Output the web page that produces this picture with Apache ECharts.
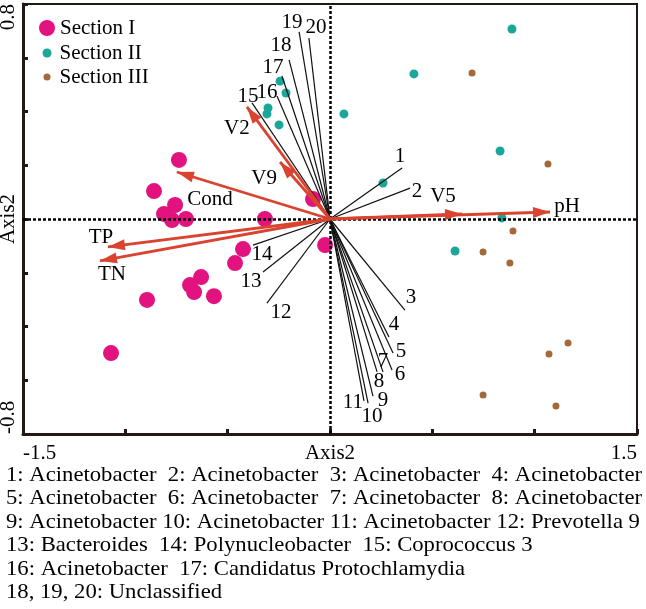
<!DOCTYPE html>
<html><head><meta charset="utf-8">
<script src="https://cdn.jsdelivr.net/npm/echarts@6/dist/echarts.min.js"></script>
<style>html,body{margin:0;padding:0;background:#fff}#c{width:646px;height:609px}</style>
</head><body><div id="c"></div>
<script>
// ---------- data ----------
const sectionI = [[-0.738,0.220],[-0.860,0.104],[-0.757,0.052],[-0.811,0.019],[-0.772,-0.004],[-0.704,0.000],
  [-0.318,0.000],[-0.083,0.074],[-0.024,-0.097],[-0.425,-0.112],[-0.464,-0.164],[-0.630,-0.216],
  [-0.684,-0.246],[-0.664,-0.272],[-0.567,-0.287],[-0.894,-0.301],[-1.070,-0.499]];
const sectionII = [[-0.244,0.513],[-0.215,0.469],[-0.303,0.413],[-0.308,0.391],[-0.249,0.350],[0.889,0.707],
  [0.410,0.540],[0.068,0.391],[0.831,0.253],[0.259,0.134],[0.840,0.004],[0.611,-0.119]];
const sectionIII = [[0.694,0.543],[1.065,0.205],[0.894,-0.045],[0.748,-0.123],[0.879,-0.164],[1.163,-0.461],
  [1.070,-0.502],[0.748,-0.655],[1.104,-0.696]];
const envNames = ['pH','V5','Cond','V2','V9','TP','TN'];
const envScores = [[1.075,0.026],[0.645,0.019],[-0.748,0.175],[-0.406,0.417],[-0.244,0.212],[-1.085,-0.104],[-1.124,-0.156]];
const speciesNames = ['1','2','3','4','5','6','7','8','9','10','11','12','13','14','15','16','17','18','19','20'];
const speciesScores = [[0.352,0.190],[0.391,0.115],[0.366,-0.339],[0.288,-0.439],[0.308,-0.499],[0.303,-0.562],
  [0.259,-0.569],[0.230,-0.569],[0.210,-0.659],[0.186,-0.685],[0.166,-0.677],[-0.308,-0.313],[-0.327,-0.197],
  [-0.376,-0.097],[-0.381,0.432],[-0.259,0.458],[-0.235,0.532],[-0.200,0.592],[-0.151,0.696],[-0.103,0.673]];
const xTickLabels = [-1.5, 1.5];
const yTickLabels = [-0.8, 0.8];
const axisNames = ['Axis2', 'Axis2'];
const captionRows = [
  '1: Acinetobacter  2: Acinetobacter  3: Acinetobacter  4: Acinetobacter',
  '5: Acinetobacter  6: Acinetobacter  7: Acinetobacter  8: Acinetobacter',
  '9: Acinetobacter 10: Acinetobacter 11: Acinetobacter 12: Prevotella 9',
  '13: Bacteroides  14: Polynucleobacter  15: Coprococcus 3',
  '16: Acinetobacter  17: Candidatus Protochlamydia',
  '18, 19, 20: Unclassified'
];

// ---------- styles ----------
const FONT = 'Liberation Serif';
const FS = 21;
const RED = '#D9432F';
const INK = '#231815';
const envLabelOffsets = [[17,-6],[-19,-17],[33,28],[-10,22],[-16,16],[-7,-9],[12,14]];
const speciesLabelOffsets = [[-2,-11],[7,3],[6,-13],[5,-12],[8,-2],[8,4],[0,-10],[2,10],[10,4],[4,13],[-11,2],
  [14,9],[-12,10],[9,9],[-4,-6],[-10,-3],[-9,-9],[-8,-14],[-7,-9],[7,-11]];

const near = (v, arr) => arr.some(a => Math.abs(a - v) < 1e-6);
const textStyle = {fontFamily: FONT, fontSize: FS, color: '#000'};
const plotLabel = Object.assign({show: true, position: 'inside', formatter: '{b}', textBorderWidth: 0,
  textBorderColor: 'transparent', opacity: 1}, textStyle);

const chart = echarts.init(document.getElementById('c'), null, {renderer: 'canvas'});
const option = {
  animation: false,
  textStyle: {fontFamily: FONT},
  grid: {left: 23, right: 9, top: 4, bottom: 175, show: true, borderColor: INK, borderWidth: 2,
         backgroundColor: 'transparent', containLabel: false, outerBoundsMode: 'none'},
  legend: [
    {data: ['Section I'], left: 39, top: 17.5, padding: 0, itemWidth: 16, itemHeight: 16, icon: 'circle',
     selectedMode: false, textStyle: Object.assign({}, textStyle)},
    {data: ['Section II'], left: 42.5, top: 42.5, padding: 0, itemWidth: 9, itemHeight: 9, icon: 'circle',
     selectedMode: false, textStyle: Object.assign({padding: [0,0,0,3]}, textStyle)},
    {data: ['Section III'], left: 43.5, top: 66.5, padding: 0, itemWidth: 7, itemHeight: 7, icon: 'circle',
     selectedMode: false, textStyle: Object.assign({padding: [0,0,0,4]}, textStyle)}
  ],
  xAxis: {
    type: 'value', min: -1.5, max: 1.5, interval: 0.5,
    name: axisNames[0], nameLocation: 'middle', nameGap: 9, nameMoveOverlap: false,
    nameTextStyle: Object.assign({}, textStyle),
    axisLine: {show: true, onZero: false, lineStyle: {color: INK, width: 3}},
    axisTick: {show: true, inside: true, length: 5, lineStyle: {color: INK, width: 3}},
    axisLabel: Object.assign({margin: 9, alignMinLabel: 'left', alignMaxLabel: 'right',
      formatter: v => near(v, xTickLabels) ? String(xTickLabels.find(a => Math.abs(a - v) < 1e-6)) : ''}, textStyle),
    splitLine: {show: false}
  },
  yAxis: {
    type: 'value', min: -0.8, max: 0.8, interval: 0.2,
    name: axisNames[1], nameLocation: 'middle', nameGap: 4, nameRotate: 90, nameMoveOverlap: false,
    nameTextStyle: Object.assign({}, textStyle),
    axisLine: {show: true, onZero: false, lineStyle: {color: INK, width: 3}},
    axisTick: {show: true, inside: true, length: 5, lineStyle: {color: INK, width: 3}},
    axisLabel: Object.assign({margin: 4, rotate: 90, alignMinLabel: 'left', alignMaxLabel: 'right',
      formatter: v => near(v, yTickLabels) ? String(yTickLabels.find(a => Math.abs(a - v) < 1e-6)) : ''}, textStyle),
    splitLine: {show: false}
  },
  series: [
    {
      type: 'scatter', name: 'zero', data: [], z: 1, silent: true,
      markLine: {silent: true, symbol: ['none', 'none'], label: {show: false},
        lineStyle: {color: '#000', width: 2.5, type: [3, 2]},
        data: [{xAxis: 0}, {yAxis: 0}]}
    },
    {
      type: 'scatter', name: 'species', z: 2, silent: true, symbol: 'circle', symbolSize: 0.5,
      itemStyle: {color: '#000'},
      label: plotLabel,
      data: speciesScores.map((p, i) => ({value: p, name: speciesNames[i], label: {offset: speciesLabelOffsets[i]}})),
      markLine: {silent: true, symbol: ['none', 'none'], label: {show: false},
        lineStyle: {color: '#111', width: 1.2, type: 'solid'},
        data: speciesScores.map(p => [{coord: [0, 0]}, {coord: p}])}
    },
    {
      type: 'scatter', name: 'env', z: 3, silent: true, symbol: 'circle', symbolSize: 0.5,
      itemStyle: {color: RED},
      label: plotLabel,
      data: envScores.map((p, i) => ({value: p, name: envNames[i], label: {offset: envLabelOffsets[i]}})),
      markLine: {silent: true, label: {show: false},
        lineStyle: {color: RED, width: 2.8, type: 'solid'},
        data: envScores.map(p => [
          {coord: [0, 0], symbol: 'none'},
          {coord: p, symbol: 'triangle', symbolSize: [11, 17], symbolOffset: [0, 8.5], itemStyle: {color: RED}}
        ])}
    },
    {type: 'scatter', name: 'Section I', data: sectionI, symbol: 'circle', symbolSize: 16, z: 4,
     itemStyle: {color: '#E2137F', opacity: 1}},
    {type: 'scatter', name: 'Section II', data: sectionII, symbol: 'circle', symbolSize: 9, z: 4,
     itemStyle: {color: '#1AA79A', opacity: 1}},
    {type: 'scatter', name: 'Section III', data: sectionIII, symbol: 'circle', symbolSize: 7, z: 4,
     itemStyle: {color: '#A5683A', opacity: 1}}
  ],
  graphic: captionRows.map((t, i) => ({
    type: 'text', x: 6, y: 475 + i * 23.5, scaleX: 1.08, silent: true,
    style: {text: t, fontFamily: FONT, fontSize: FS, fill: '#000', verticalAlign: 'middle', align: 'left'}
  }))
};
chart.setOption(option);
</script>
</body></html>
